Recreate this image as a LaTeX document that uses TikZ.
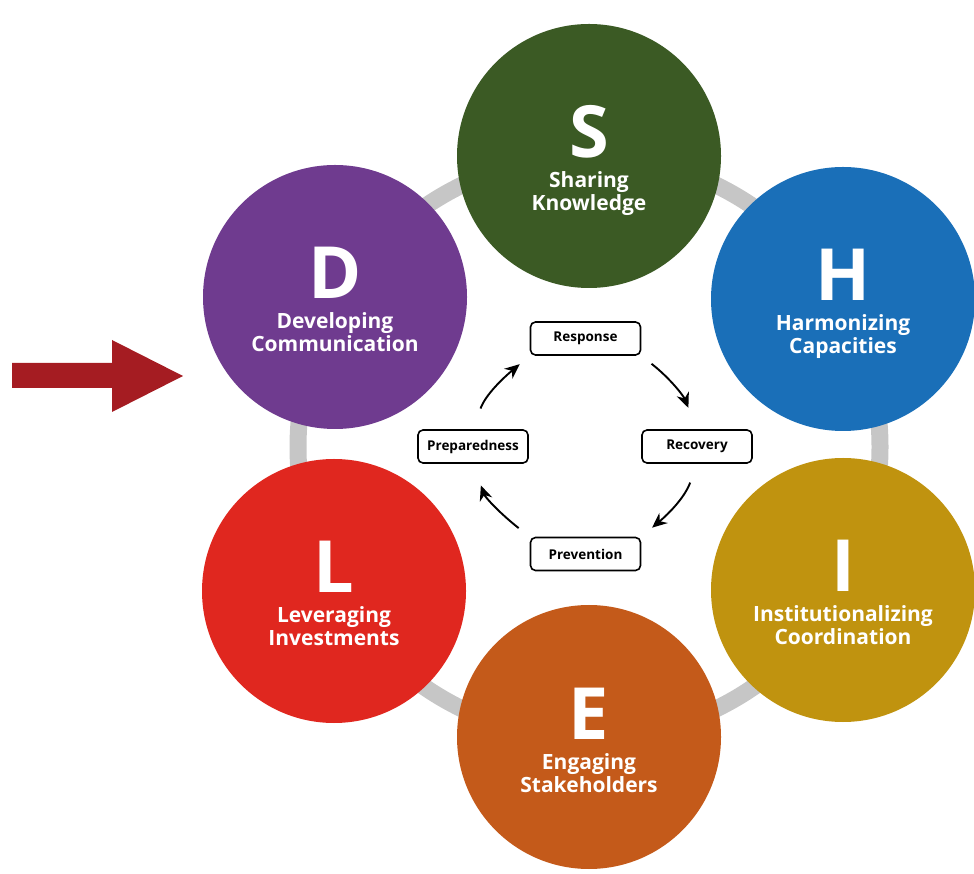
\documentclass[tikz,border=0pt]{standalone}
\usepackage{fontspec}
\setmainfont{Open Sans}
\usetikzlibrary{arrows.meta}
\definecolor{sgreen}{HTML}{3B5A24}
\definecolor{hblue}{HTML}{1A6FB8}
\definecolor{igold}{HTML}{C0930F}
\definecolor{eorange}{HTML}{C45A1A}
\definecolor{lred}{HTML}{E0271F}
\definecolor{dpurple}{HTML}{6F3B8F}
\definecolor{arrowred}{HTML}{A51C22}
\definecolor{ringgray}{HTML}{C6C6C6}
\begin{document}
\begin{tikzpicture}[x=1pt,y=1pt,
  disc/.style={circle,fill=#1,minimum size=264pt,inner sep=0pt},
  letter/.style={anchor=base,text=white,inner sep=0pt,font=\bfseries\fontsize{72}{72}\selectfont},
  words/.style={anchor=base,align=center,text=white,inner sep=0pt,font=\bfseries\fontsize{21}{23}\selectfont},
  phase/.style={draw,rounded corners=5pt,line width=1.6pt,minimum width=110pt,minimum height=33pt,inner sep=0pt,font=\bfseries\fontsize{13.5}{14}\selectfont},
  cyc/.style={-{Stealth[length=15pt,width=13pt]},line width=1.9pt}]
  \useasboundingbox (0,0) rectangle (974,873);
  \draw[line width=17pt,ringgray] (589,426) circle (291pt);
  \fill[arrowred] (12,485) -- (112,485) -- (112,461) -- (183,497) -- (112,533) -- (112,510) -- (12,510) -- cycle;

  \node[disc=sgreen] (S) at (589,717) {};
  \node[disc=hblue] (H) at (843,574) {};
  \node[disc=igold] (I) at (843,283) {};
  \node[disc=eorange] (E) at (589,136) {};
  \node[disc=lred] (L) at (334,282) {};
  \node[disc=dpurple] (D) at (335,576) {};

  \node[letter] (S-l) at ([yshift=-2pt]S.center) {S};
  \node[words] (S-w) at ([yshift=-55pt]S.center) {Sharing\\Knowledge};
  \node[letter] (H-l) at ([yshift=-2pt]H.center) {H};
  \node[words] (H-w) at ([yshift=-55pt]H.center) {Harmonizing\\Capacities};
  \node[letter] (I-l) at ([yshift=-2pt]I.center) {I};
  \node[words] (I-w) at ([yshift=-55pt]I.center) {Institutionalizing\\Coordination};
  \node[letter] (E-l) at ([yshift=-2pt]E.center) {E};
  \node[words] (E-w) at ([yshift=-55pt]E.center) {Engaging\\Stakeholders};
  \node[letter] (L-l) at ([yshift=-2pt]L.center) {L};
  \node[words] (L-w) at ([yshift=-55pt]L.center) {Leveraging\\Investments};
  \node[letter] (D-l) at ([yshift=-2pt]D.center) {D};
  \node[words] (D-w) at ([yshift=-55pt]D.center) {Developing\\Communication};

  \node[phase] (resp) at (585.5,534.5) {Response};
  \node[phase] (recov) at (697,426.5) {Recovery};
  \node[phase] (prev) at (585.5,319) {Prevention};
  \node[phase] (prep) at (473,426.5) {Preparedness};

  \draw[cyc,shorten <=13pt,shorten >=23pt] (resp.south east) to[out=-38,in=112] (recov.north);
  \draw[cyc,shorten <=20pt,shorten >=14pt] (recov.south) to[out=-110,in=40] (prev.north east);
  \draw[cyc,shorten <=14pt,shorten >=23pt] (prev.north west) to[out=142,in=-70] (prep.south);
  \draw[cyc,shorten <=22pt,shorten >=13pt] (prep.north) to[out=70,in=-140] (resp.south west);
\end{tikzpicture}
\end{document}
